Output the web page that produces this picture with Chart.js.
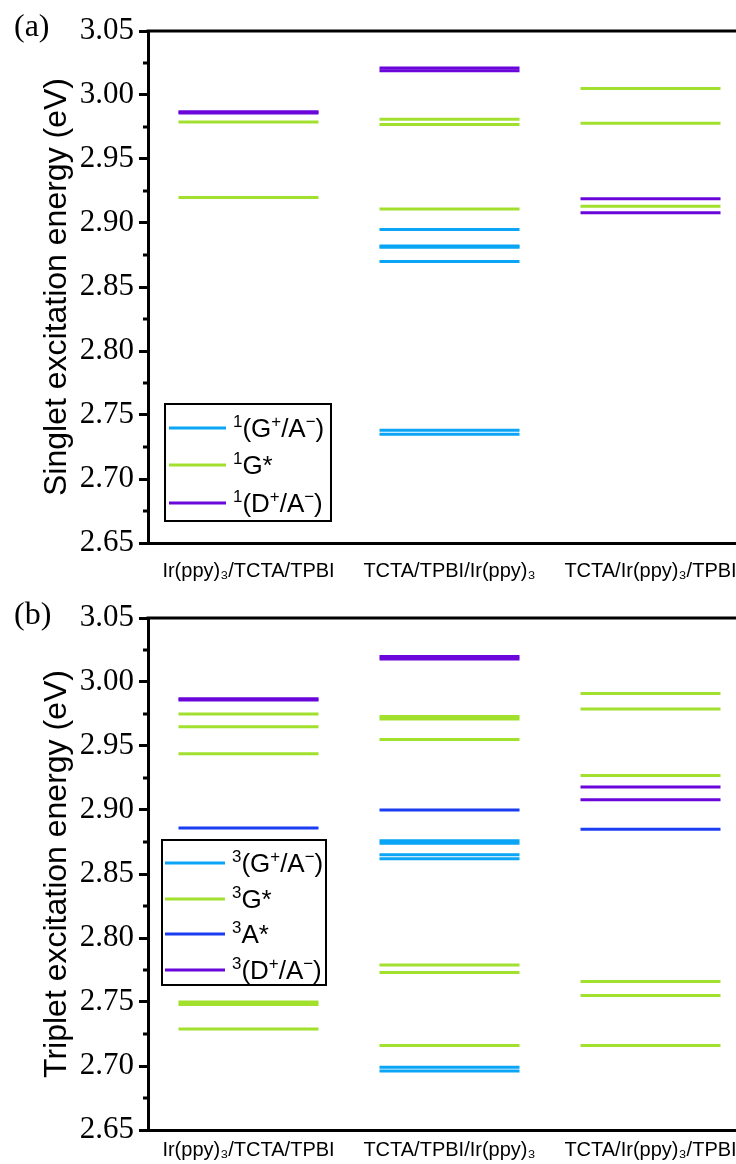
<!DOCTYPE html>
<html>
<head>
<meta charset="utf-8">
<script src="https://cdn.jsdelivr.net/npm/chart.js@4.4.1/dist/chart.umd.min.js"></script>
<style>
    html, body { margin: 0; padding: 0; background: #fff; width: 736px; height: 1164px; overflow: hidden; position: relative; }
    canvas { position: absolute; left: 0; }
    .tag { position: absolute; left: 14px; font: 32px 'Liberation Serif', 'Times New Roman', serif; line-height: 32px; color: #000; }
</style>
</head>
<body>
<canvas id="chartA" width="760" height="590" style="top:0"></canvas>
<canvas id="chartB" width="760" height="574" style="top:590px"></canvas>
<div class="tag" style="top:9px">(a)</div>
<div class="tag" style="top:597px">(b)</div>
<script>
// stacks on the x axis
const categories = ['Ir(ppy)₃/TCTA/TPBI', 'TCTA/TPBI/Ir(ppy)₃', 'TCTA/Ir(ppy)₃/TPBI'];

// (a) singlet levels (eV), one list per stack
const singletGA = [[], [2.895, 2.882, 2.881, 2.870, 2.738, 2.735], []];
const singletG  = [[2.979, 2.920], [2.981, 2.977, 2.911], [3.005, 2.978, 2.913]];
const singletDA = [[2.987, 2.986], [3.021, 3.019], [2.919, 2.908]];
const singletNames = ['^1(G^+/A^−)', '^1G*', '^1(D^+/A^−)'];

// (b) triplet levels (eV)
const tripletGA = [[], [2.876, 2.874, 2.865, 2.862, 2.699, 2.696], []];
const tripletG  = [[2.975, 2.965, 2.944, 2.750, 2.748, 2.729], [2.973, 2.971, 2.955, 2.779, 2.773, 2.716], [2.991, 2.979, 2.927, 2.766, 2.755, 2.716]];
const tripletA  = [[2.886], [2.900], [2.885]];
const tripletDA = [[2.987, 2.986], [3.020, 3.018], [2.918, 2.908]];
const tripletNames = ['^3(G^+/A^−)', '^3G*', '^3A*', '^3(D^+/A^−)'];

const LIGHTBLUE = '#0aa5f5';
const GREEN = '#a2e02e';
const BLUE = '#1a3cf2';
const PURPLE = '#6a06da';

const SANS = "'Liberation Sans', Arial, 'DejaVu Sans', sans-serif";
const SERIF = "'Liberation Serif', 'Times New Roman', serif";

Chart.defaults.font.family = SANS;
Chart.defaults.color = '#000';

function toPoints(levels) {
    return levels.flatMap((list, i) => list.map(v => ({ x: categories[i], y: v })));
}

function levelSet(label, levels, color) {
    return {
        label: label,
        data: toPoints(levels),
        borderColor: color,
        backgroundColor: color,
        showLine: false,
        pointStyle: 'line',
        pointRadius: 70,
        pointHoverRadius: 70,
        pointBorderWidth: 3,
        pointHoverBorderWidth: 3
    };
}

// text with ^x superscripts
function drawRich(ctx, str, x, y, size) {
    let i = 0;
    while (i < str.length) {
        let ch = str[i], sup = false;
        if (ch === '^') { sup = true; ch = str[i + 1]; i += 2; } else { i++; }
        const s = sup ? size * 0.65 : size;
        ctx.font = `${s}px ${SANS}`;
        ctx.fillText(ch, x, sup ? y - size * 0.38 : y);
        x += ctx.measureText(ch).width;
    }
}

const levelFrame = {
    id: 'levelFrame',
    afterDraw(chart, args, opts) {
        const { ctx, chartArea: a, scales: { y } } = chart;
        ctx.save();
        ctx.strokeStyle = '#000';
        ctx.lineWidth = 3;
        ctx.beginPath();
        ctx.moveTo(a.left - 1.5, a.top);
        ctx.lineTo(a.right, a.top);
        // minor ticks halfway between labelled ticks
        for (let i = 0; i < y.ticks.length - 1; i++) {
            const py = y.getPixelForValue((y.ticks[i].value + y.ticks[i + 1].value) / 2);
            ctx.moveTo(a.left - 5, py);
            ctx.lineTo(a.left, py);
        }
        ctx.stroke();

        // legend box
        const [x0, y0, x1, y1] = opts.box;
        ctx.lineWidth = 2;
        ctx.strokeRect(x0, y0, x1 - x0, y1 - y0);
        ctx.textBaseline = 'alphabetic';
        ctx.fillStyle = '#000';
        chart.data.datasets.forEach((ds, i) => {
            const ry = opts.rows[i];
            ctx.strokeStyle = ds.borderColor;
            ctx.lineWidth = 3;
            ctx.beginPath();
            ctx.moveTo(opts.lineX[0], ry);
            ctx.lineTo(opts.lineX[1], ry);
            ctx.stroke();
            drawRich(ctx, ds.label, opts.textX, ry + 26 * 0.36, 26);
        });
        ctx.restore();
    }
};

function makeChart(id, datasets, title, frame, pad) {
    new Chart(document.getElementById(id), {
        type: 'line',
        data: { labels: categories, datasets: datasets },
        plugins: [levelFrame],
        options: {
            responsive: false,
            animation: false,
            layout: { autoPadding: false, padding: { top: pad.top, right: 9, left: 0, bottom: 0 } },
            plugins: {
                legend: { display: false },
                tooltip: { enabled: false },
                levelFrame: frame
            },
            scales: {
                x: {
                    type: 'category',
                    offset: true,
                    afterFit: s => { s.height = pad.xh; s.paddingLeft = 0; s.paddingRight = 0; },
                    grid: { display: false, drawTicks: false },
                    border: { display: true, color: '#000', width: 3 },
                    ticks: { font: { size: 20 }, color: '#000', padding: pad.xpad, maxRotation: 0, autoSkip: false }
                },
                y: {
                    min: 2.65,
                    max: 3.05,
                    afterFit: s => { s.width = 148; s.paddingTop = 0; s.paddingBottom = 0; },
                    grid: { drawOnChartArea: false, tickLength: 9, tickWidth: 3, lineWidth: 3, tickColor: '#000', color: '#000' },
                    border: { display: true, color: '#000', width: 3 },
                    ticks: {
                        stepSize: 0.05,
                        padding: 5,
                        color: '#000',
                        font: { family: SERIF, size: 31 },
                        callback: v => Number(v).toFixed(2)
                    },
                    title: {
                        display: true,
                        text: title,
                        color: '#000',
                        font: { family: SANS, size: 32 },
                        padding: { top: 38, bottom: 0 }
                    }
                }
            }
        }
    });
}

makeChart('chartA', [
    levelSet(singletNames[0], singletGA, LIGHTBLUE),
    levelSet(singletNames[1], singletG, GREEN),
    levelSet(singletNames[2], singletDA, PURPLE)
], 'Singlet excitation energy (eV)', {
    box: [165, 404, 331, 521],
    rows: [428, 465, 503],
    lineX: [169, 226],
    textX: 233
}, { top: 31, xh: 47, xpad: 16 });

makeChart('chartB', [
    levelSet(tripletNames[0], tripletGA, LIGHTBLUE),
    levelSet(tripletNames[1], tripletG, GREEN),
    levelSet(tripletNames[2], tripletA, BLUE),
    levelSet(tripletNames[3], tripletDA, PURPLE)
], 'Triplet excitation energy (eV)', {
    box: [162, 250, 326, 395],
    rows: [273, 309, 344, 380],
    lineX: [165, 225],
    textX: 232
}, { top: 28, xh: 34, xpad: 8 });
</script>
</body>
</html>
